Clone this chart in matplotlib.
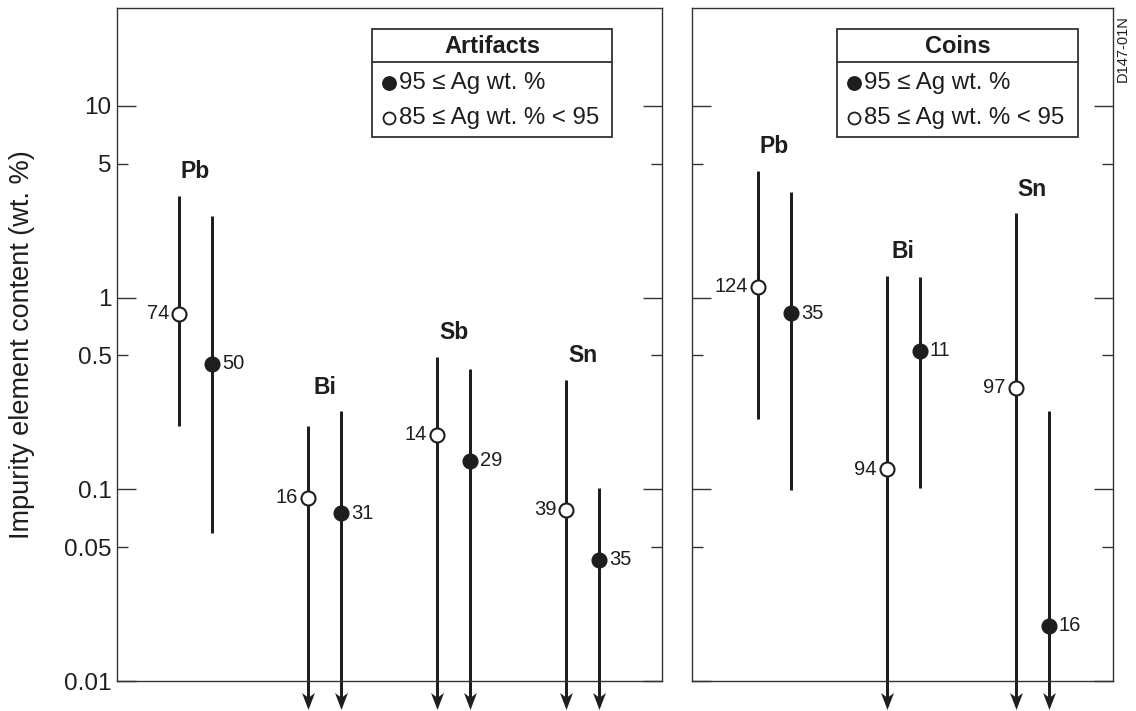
import numpy as np
import matplotlib
matplotlib.use("Agg")
import matplotlib.pyplot as plt
from matplotlib.path import Path
from matplotlib.patches import Rectangle
import matplotlib.transforms as mtransforms

plt.rcParams['font.family'] = ['Liberation Sans', 'DejaVu Sans']

# ---------------- data ----------------
art_elements = ['Pb', 'Bi', 'Sb', 'Sn']
# 95 <= Ag wt.% (filled)
art_hi_mean = [0.451, 0.075, 0.141, 0.0428]
art_hi_top = [2.65, 0.256, 0.423, 0.101]
art_hi_low = [0.0594, np.nan, np.nan, np.nan]   # nan -> extends below 0.01 (arrow)
art_hi_n = [50, 31, 29, 35]
# 85 <= Ag wt.% < 95 (open)
art_lo_mean = [0.822, 0.0905, 0.192, 0.0781]
art_lo_top = [3.39, 0.214, 0.492, 0.372]
art_lo_low = [0.214, np.nan, np.nan, np.nan]
art_lo_n = [74, 16, 14, 39]

coin_elements = ['Pb', 'Bi', 'Sn']
coin_hi_mean = [0.829, 0.529, 0.0194]
coin_hi_top = [3.55, 1.28, 0.257]
coin_hi_low = [0.099, 0.101, np.nan]
coin_hi_n = [35, 11, 16]
coin_lo_mean = [1.14, 0.127, 0.338]
coin_lo_top = [4.58, 1.30, 2.76]
coin_lo_low = [0.232, np.nan, np.nan]
coin_lo_n = [124, 94, 97]

ytick_vals = [0.01, 0.05, 0.1, 0.5, 1, 5, 10]
ytick_labels = ['0.01', '0.05', '0.1', '0.5', '1', '5', '10']
legend_hi = '95 \u2264 Ag wt. %'
legend_lo = '85 \u2264 Ag wt. % < 95'

# ---------------- layout ----------------
W, H = 1136, 711
fig = plt.figure(figsize=(W / 100, H / 100), dpi=100)
INK = '#1e1e1e'
PX = 0.72  # points per pixel


def fig_axes(x0, x1, y0, y1):
    return fig.add_axes([x0 / W, 1 - y1 / H, (x1 - x0) / W, (y1 - y0) / H])


axL = fig_axes(116.7, 662.3, 8, 681)
axR = fig_axes(691.7, 1113.3, 8, 681)

# stealth-like arrow head marker (pointing down)
arrow_path = Path([(0, -0.5), (0.38, 0.5), (0, 0.22), (-0.38, 0.5), (0, -0.5)],
                  [Path.MOVETO, Path.LINETO, Path.LINETO, Path.LINETO, Path.CLOSEPOLY])

count_font = ['Liberation Sans', 'DejaVu Sans']


def setup(ax, xlim, show_labels):
    ax.set_yscale('log')
    ax.set_ylim(0.01, 32.4)
    ax.set_xlim(*xlim)
    ax.set_xticks([])
    major = [v for v in ytick_vals if np.isclose(np.log10(v), round(np.log10(v)))]
    minor = [v for v in ytick_vals if v not in major]
    ax.yaxis.set_major_locator(matplotlib.ticker.FixedLocator(major))
    ax.yaxis.set_minor_locator(matplotlib.ticker.FixedLocator(minor))
    lab = dict(zip(ytick_vals, ytick_labels))
    if show_labels:
        ax.yaxis.set_major_formatter(matplotlib.ticker.FuncFormatter(lambda v, p: lab.get(v, '')))
        ax.yaxis.set_minor_formatter(matplotlib.ticker.FuncFormatter(lambda v, p: lab.get(v, '')))
    else:
        ax.yaxis.set_major_formatter(matplotlib.ticker.NullFormatter())
        ax.yaxis.set_minor_formatter(matplotlib.ticker.NullFormatter())
    for which, ln in (('major', 19), ('minor', 11)):
        ax.tick_params(axis='y', which=which, direction='in', length=ln * PX, width=1.0,
                       color='#333333', left=True, right=True, labelsize=17.5,
                       pad=5 * PX, labelcolor=INK)
    for s in ax.spines.values():
        s.set_linewidth(1.0)
        s.set_color('#333333')


def draw_bar(ax, x, mean, top, low, n, filled):
    blend = mtransforms.blended_transform_factory(ax.transData, ax.transAxes)
    lw = 3 * PX
    if np.isnan(low):
        ax.plot([x, x], [top, ax.get_ylim()[0]], color=INK, lw=lw, solid_capstyle='butt',
                clip_on=False, zorder=2)
        ax.plot([x, x], [0, -0.03], color=INK, lw=lw, solid_capstyle='butt',
                transform=blend, clip_on=False, zorder=2)
        ax.plot([x], [-0.029], marker=arrow_path, markersize=17 * PX, color=INK,
                markeredgewidth=0, transform=blend, clip_on=False, zorder=3)
    else:
        ax.plot([x, x], [low, top], color=INK, lw=lw, solid_capstyle='butt', zorder=2)
    ax.plot([x], [mean], marker='o', markersize=14 * PX,
            markerfacecolor=INK if filled else 'white', markeredgecolor=INK,
            markeredgewidth=1.5, zorder=4, clip_on=False)
    if filled:
        ax.annotate(str(n), (x, mean), xytext=(10 * PX, 0), textcoords='offset points',
                    ha='left', va='center', fontsize=14.5, family=count_font, color=INK)
    else:
        ax.annotate(str(n), (x, mean), xytext=(-10 * PX, 0), textcoords='offset points',
                    ha='right', va='center', fontsize=14.5, family=count_font, color=INK)


def panel(ax, elements, hi_m, hi_t, hi_l, hi_n, lo_m, lo_t, lo_l, lo_n, d=0.128):
    for i, el in enumerate(elements):
        draw_bar(ax, i - d, lo_m[i], lo_t[i], lo_l[i], lo_n[i], False)
        draw_bar(ax, i + d, hi_m[i], hi_t[i], hi_l[i], hi_n[i], True)
        top = max(hi_t[i], lo_t[i])
        ax.annotate(el, (i, top), xytext=(0, 24 * PX), textcoords='offset points',
                    ha='center', va='center', fontsize=16.5, fontweight='bold', color=INK)


def legend_box(ax, x0px, x1px, title):
    bb = ax.get_position()
    ax_x0 = bb.x0 * W
    ax_w = bb.width * W
    ax_top = (1 - bb.y1) * H
    ax_h = bb.height * H

    def fx(px):
        return (px - ax_x0) / ax_w

    def fy(py):
        return 1 - (py - ax_top) / ax_h

    top, div, bot = 28.5, 61.7, 136.5
    ax.add_patch(Rectangle((fx(x0px), fy(bot)), fx(x1px) - fx(x0px), fy(top) - fy(bot),
                           transform=ax.transAxes, facecolor='white', edgecolor='#333333',
                           lw=1.3, zorder=5))
    ax.plot([fx(x0px), fx(x1px)], [fy(div), fy(div)], transform=ax.transAxes,
            color='#333333', lw=1.3, zorder=6)
    ax.text((fx(x0px) + fx(x1px)) / 2, fy((top + div) / 2 + 1), title, transform=ax.transAxes,
            ha='center', va='center', fontsize=17, fontweight='bold', color=INK, zorder=7)
    for yy, lab, filled in [(83, legend_hi, True), (118, legend_lo, False)]:
        ax.plot([fx(x0px + 17)], [fy(yy)], marker='o', markersize=13 * PX if filled else 12 * PX,
                markerfacecolor=INK if filled else 'white', markeredgecolor=INK,
                markeredgewidth=1.3, transform=ax.transAxes, zorder=7)
        ax.text(fx(x0px + 27), fy(yy), lab, transform=ax.transAxes, ha='left',
                va='center', fontsize=17.3, color=INK, zorder=7)


setup(axL, (-0.611, 3.616), True)
setup(axR, (-0.64, 2.628), False)
panel(axL, art_elements, art_hi_mean, art_hi_top, art_hi_low, art_hi_n,
      art_lo_mean, art_lo_top, art_lo_low, art_lo_n)
panel(axR, coin_elements, coin_hi_mean, coin_hi_top, coin_hi_low, coin_hi_n,
      coin_lo_mean, coin_lo_top, coin_lo_low, coin_lo_n)
legend_box(axL, 372.3, 611.7, 'Artifacts')
legend_box(axR, 836.7, 1078.3, 'Coins')

fig.text(22 / W, 1 - 345 / H, 'Impurity element content (wt. %)', rotation=90,
         ha='center', va='center', fontsize=19.5, color=INK)
fig.text(1123 / W, 1 - 49 / H, 'D147-01N', rotation=90, ha='center', va='center',
         fontsize=10.5, color=INK)

fig.savefig('out.png', dpi=100)
